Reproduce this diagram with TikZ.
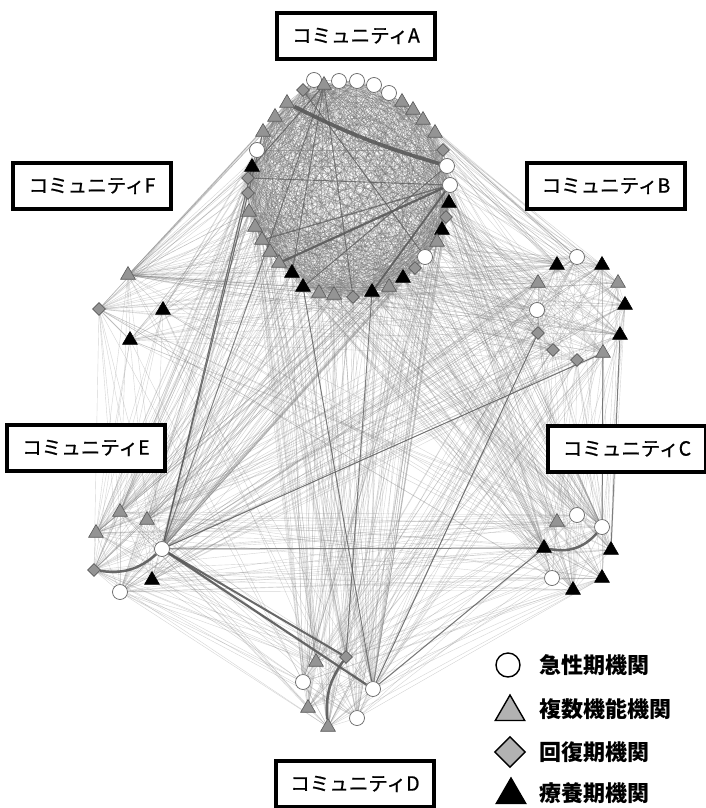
\documentclass[tikz,border=0pt]{standalone}
\usepackage{fontspec}
\newfontfamily\jp{Noto Sans CJK JP}
\newfontfamily\jpl[FakeBold=0.9]{Noto Sans CJK JP}
\usetikzlibrary{shapes.geometric}
\pgfdeclarelayer{bg}
\pgfsetlayers{bg,main}
\tikzset{
 cn/.style={circle,draw=black!60,fill=white,line width=0.7pt,minimum size=15pt,inner sep=0pt},
 tn/.style={regular polygon,regular polygon sides=3,draw=black!65,fill=black!42,line width=0.6pt,minimum size=17pt,inner sep=0pt},
 dn/.style={diamond,draw=black!65,fill=black!42,line width=0.6pt,minimum size=13pt,inner sep=0pt},
 kn/.style={regular polygon,regular polygon sides=3,draw=black,fill=black,line width=0.6pt,minimum size=17pt,inner sep=0pt},
 ln/.style={draw=black!50,line width=0.4pt,opacity=0.33},
 hl/.style={draw=black!65,line width=1pt,opacity=0.75},
 tk/.style={draw=black!65,line width=3pt,opacity=0.9},
 lbl/.style={draw=black,line width=3.4pt,fill=white,minimum width=158pt,minimum height=46pt,inner sep=0pt,font=\jpl\fontsize{19.5}{21}\selectfont},
 lgt/.style={anchor=west,font=\jp\bfseries\fontsize{22}{24}\selectfont},
 lgc/.style={circle,draw=black,fill=white,line width=1.4pt,minimum size=24pt,inner sep=0pt},
 lgtri/.style={regular polygon,regular polygon sides=3,draw=black,fill=black!30,line width=1.4pt,minimum size=34pt,inner sep=0pt},
 lgd/.style={diamond,draw=black,fill=black!30,line width=1.4pt,minimum size=31pt,inner sep=0pt},
 lgk/.style={regular polygon,regular polygon sides=3,draw=black,fill=black,line width=1.4pt,minimum size=34pt,inner sep=0pt}
}
\newcommand\cedges[5]{%
 \foreach \i in {1,...,#2}{\foreach \j in {1,...,#4}{%
   \pgfmathtruncatemacro\myok{rnd<#5}%
   \ifnum\myok=1 \draw[ln] (#1\i) -- (#3\j);\fi}}}
\newcommand\iedges[3]{%
 \foreach \i in {1,...,#2}{\foreach \j in {1,...,#2}{%
   \ifnum\i<\j\relax \pgfmathtruncatemacro\myok{rnd<#3}%
   \ifnum\myok=1 \draw[ln] (#1\i) -- (#1\j);\fi\fi}}}
\newcommand\hubedges[4]{%
 \foreach \j in {1,...,#3}{%
   \pgfmathtruncatemacro\myok{rnd<#4}%
   \ifnum\myok=1 \draw[ln] (#1) -- (#2\j);\fi}}
\begin{document}
\begin{tikzpicture}[x=1pt,y=-1pt]
\useasboundingbox (0,0) rectangle (706,808);
% community A
\foreach \n/\x/\y/\s in {a1/303/90/dn,a2/314/80/cn,a3/324/85/tn,a4/339/81/cn,a5/357/81/cn,a6/374/85/cn,a7/389/93/cn,a8/402/102/tn,a9/413/110/tn,a10/423/120/tn,a11/435/133/tn,a12/443/150/dn,a13/447/166/cn,a14/450/185/cn,a15/449/203/kn,a16/446/217/dn,a17/442/230/kn,a18/437/242/tn,a19/425/257/cn,a20/415/268/dn,a21/403/278/kn,a22/389/287/tn,a23/372/292/kn,a24/353/297/dn,a25/334/295/tn,a26/319/293/tn,a27/303/287/kn,a28/292/273/kn,a29/279/263/tn,a30/270/252/tn,a31/262/240/tn,a32/255/227/tn,a33/249/212/tn,a34/248/193/dn,a35/248/178/dn,a36/252/167/kn,a37/257/150/cn,a38/263/132/tn,a39/275/117/tn,a40/287/103/tn}
  {\node[\s] (\n) at (\x,\y) {};}
% community B
\foreach \n/\x/\y/\s in {b1/577/257/cn,b2/602/265/kn,b3/618/283/tn,b4/625/305/kn,b5/620/335/kn,b6/603/353/tn,b7/577/360/dn,b8/553/350/dn,b9/538/333/dn,b10/537/310/cn,b11/538/283/tn,b12/557/265/kn}
  {\node[\s] (\n) at (\x,\y) {};}
% community C
\foreach \n/\x/\y/\s in {c1/577/515/cn,c2/602/527/cn,c3/611/550/kn,c4/602/578/kn,c5/573/590/kn,c6/552/578/cn,c7/544/548/kn,c8/557/522/tn}
  {\node[\s] (\n) at (\x,\y) {};}
% community D
\foreach \n/\x/\y/\s in {d1/346/657/dn,d2/373/689/cn,d3/357/718/cn,d4/328/727/tn,d5/308/708/tn,d6/303/682/cn,d7/316/662/tn}
  {\node[\s] (\n) at (\x,\y) {};}
% community E
\foreach \n/\x/\y/\s in {e1/120/512/tn,e2/147/520/tn,e3/162/549/cn,e4/152/580/kn,e5/120/592/cn,e6/94/570/dn,e7/96/533/tn}
  {\node[\s] (\n) at (\x,\y) {};}
% community F
\foreach \n/\x/\y/\s in {f1/128/275/tn,f2/163/310/kn,f3/130/340/kn,f4/99/309/dn}
  {\node[\s] (\n) at (\x,\y) {};}

\begin{pgfonlayer}{bg}
\fill[white] (0,0) rectangle (706,808);
\pgfmathsetseed{7}
\begin{scope}[ln/.style={draw=black!60,line width=0.45pt,opacity=0.42}]
\iedges{a}{40}{0.7}
\end{scope}
\iedges{b}{12}{0.6}
\iedges{c}{8}{0.7}
\iedges{d}{7}{0.8}
\iedges{e}{7}{0.8}
\cedges{a}{40}{b}{12}{0.3}
\cedges{a}{40}{c}{8}{0.3}
\cedges{a}{40}{d}{7}{0.4}
\cedges{a}{40}{e}{7}{0.35}
\cedges{a}{40}{f}{4}{0.25}
\cedges{b}{12}{c}{8}{0.4}
\cedges{b}{12}{d}{7}{0.4}
\cedges{b}{12}{e}{7}{0.4}
\cedges{b}{12}{f}{4}{0.3}
\cedges{c}{8}{d}{7}{0.5}
\cedges{c}{8}{e}{7}{0.5}
\cedges{c}{8}{f}{4}{0.3}
\cedges{d}{7}{e}{7}{0.55}
\cedges{d}{7}{f}{4}{0.3}
\cedges{e}{7}{f}{4}{0.5}
\hubedges{e3}{a}{40}{0.5}
\hubedges{e3}{b}{12}{0.6}
\hubedges{f1}{a}{40}{0.5}
\hubedges{f1}{b}{12}{0.5}
\hubedges{d2}{a}{40}{0.5}
\hubedges{d2}{b}{12}{0.5}
\hubedges{c2}{a}{40}{0.4}
\draw[ln] (f1) -- (f3);
\draw[ln] (f1) -- (f2);
\draw[hl,opacity=0.4] (f4) -- (f3);
% highlighted edges
\draw[tk,line width=3.8pt] (a40) to[bend right=5] (a13);
\draw[tk,line width=2.2pt] (a14) -- (a29);
\draw[tk,line width=1.8pt] (a14) -- (a23);
\draw[hl,line width=1.3pt] (a14) -- (a31);
\draw[hl] (a35) -- (a14);
\draw[hl] (a3) -- (a28);
\draw[hl] (a3) -- (a24);
\draw[hl] (a3) -- (a36);
\draw[hl] (a1) -- (a19);
\draw[hl] (a13) -- (a27);
\draw[hl] (e3) -- (a36);
\draw[hl] (e3) -- (a38);
\draw[hl] (e3) -- (a3);
\draw[hl] (e3) -- (c7);
\draw[hl] (e3) -- (b6);
\draw[tk,line width=2.2pt] (e3) -- (d2);
\draw[tk,line width=2pt] (e3) -- (d1);
\draw[tk,line width=2.5pt] (e6) to[bend right=25] (e3);
\draw[tk,line width=2.5pt] (c7) to[bend right=30] (c2);
\draw[tk,line width=2.5pt] (d4) to[bend left=20] (d1);
\draw[hl] (a27) -- (d2);
\draw[hl] (a23) -- (d1);
\draw[hl] (b9) -- (d2);
\draw[hl] (b6) -- (c2);
\draw[hl] (b5) -- (c3);
\draw[hl] (d2) -- (c7);
\end{pgfonlayer}

% labels
\node[lbl] (labA) at (356,36) {コミュニティA};
\node[lbl] (labB) at (606,186) {コミュニティB};
\node[lbl] (labF) at (92,186) {コミュニティF};
\node[lbl] (labE) at (86,448) {コミュニティE};
\node[lbl] (labC) at (627,449) {コミュニティC};
\node[lbl] (labD) at (355,784) {コミュニティD};
% legend
\node[lgc] (lg1) at (508,665) {};
\node[lgtri] (lg2) at (510,712) {};
\node[lgd] (lg3) at (510,752) {};
\node[lgk] (lg4) at (511,795) {};
\node[lgt] (lt1) at (536,665) {急性期機関};
\node[lgt] (lt2) at (536,709) {複数機能機関};
\node[lgt] (lt3) at (536,752) {回復期機関};
\node[lgt] (lt4) at (536,793) {療養期機関};
\end{tikzpicture}
\end{document}
